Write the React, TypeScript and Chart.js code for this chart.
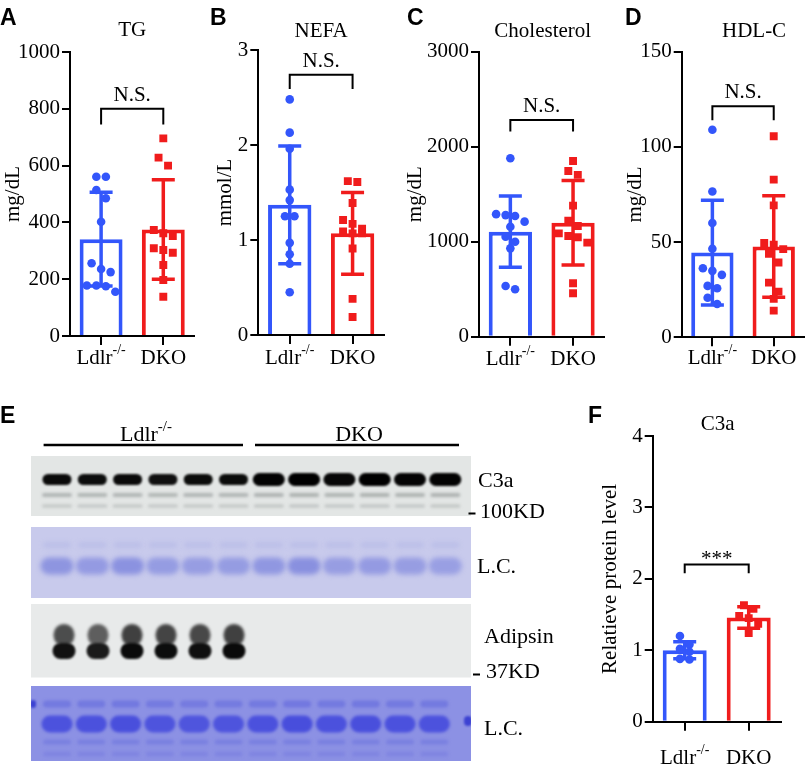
import React, { useEffect, useRef } from 'react';
import { Chart, registerables } from 'chart.js';

Chart.register(...registerables);

const BLUE = '#3356fb';
const RED = '#f01c1c';
const SERIF = '"Liberation Serif", "Times New Roman", serif';
const SANS = '"Liberation Sans", Arial, sans-serif';
const COLORS = [BLUE, RED];

// ---------- data ----------
const groupLabels = ['Ldlr', 'DKO'];
const ldlrSup = '-/-';

const tgLdlr = [561, 561, 514, 485, 402, 256, 236, 225, 178, 178, 175, 156];
const tgDko = [696, 628, 600, 373, 362, 352, 309, 303, 293, 250, 197, 138];
const tgMean = [341, 375];
const tgSd = [165, 175];

const nefaLdlr = [2.48, 2.13, 1.96, 1.53, 1.42, 1.25, 1.25, 0.97, 0.85, 0.75, 0.45];
const nefaDko = [1.62, 1.61, 1.39, 1.21, 1.17, 1.12, 1.09, 1.07, 1.07, 0.91, 0.38, 0.19];
const nefaMean = [1.37, 1.07];
const nefaSd = [0.62, 0.43];

const cholLdlr = [1878, 1290, 1280, 1270, 1211, 1158, 1053, 1000, 930, 534, 499];
const cholDko = [1850, 1745, 1703, 1380, 1221, 1165, 1088, 1060, 1046, 990, 562, 457];
const cholMean = [1105, 1200];
const cholSd = [375, 445];

const hdlLdlr = [109, 76.6, 60, 46.5, 36.3, 34.9, 32.8, 27, 25.8, 20.8, 17.5];
const hdlDko = [105.6, 82.8, 69.3, 49.5, 48.6, 46.3, 43.8, 39.3, 28.7, 24, 20.2, 14];
const hdlMean = [44.5, 47.7];
const hdlSd = [27.5, 26.7];

const c3aLdlr = [1.2, 1.08, 1.02, 0.98, 0.88, 0.87];
const c3aDko = [1.63, 1.58, 1.48, 1.45, 1.37, 1.24];
const c3aMean = [1.0, 1.46];
const c3aSd = [0.12, 0.15];

// western blot lane intensities (relative)
const c3aBand = [0.82, 0.78, 0.82, 0.72, 0.8, 0.8, 0.95, 1, 0.88, 1, 0.93, 0.95];
const lcTopBand = [0.75, 0.6, 0.85, 0.55, 0.5, 0.55, 0.7, 0.9, 0.5, 0.6, 0.5, 0.45];
const adipsinBand = [0.8, 0.6, 0.95, 0.9, 0.85, 0.95, 0, 0, 0, 0, 0, 0];
const lcBottomBand = [0.8, 0.85, 0.9, 0.75, 0.7, 0.75, 0.85, 0.95, 0.85, 0.9, 0.85, 0.8];

type Panel = {
  letter: string; title: string; yTitle: string; yMax: number; step: number;
  values: number[][]; mean: number[]; sd: number[]; sig: string;
  sigTop: number; sigLeg: number; sigDy: number;
  left: number; top: number; w: number; h: number; yW: number; padTop: number;
  padRight: number; xH: number; yTitlePad: number; letterX: number; letterY: number;
  titleY: number; titleDx: number; labelDy: number;
};

const PANELS: Panel[] = [
  { letter: 'A', title: 'TG', yTitle: 'mg/dL', yMax: 1000, step: 200, values: [tgLdlr, tgDko], mean: tgMean, sd: tgSd,
    sig: 'N.S.', sigTop: 800, sigLeg: 745, sigDy: -8,
    left: 0, top: 0, w: 200, h: 380, yW: 70, padTop: 52, padRight: 3, xH: 44, yTitlePad: 1,
    letterX: 0, letterY: 25, titleY: 36, titleDx: 0, labelDy: 28 },
  { letter: 'B', title: 'NEFA', yTitle: 'mmol/L', yMax: 3, step: 1, values: [nefaLdlr, nefaDko], mean: nefaMean, sd: nefaSd,
    sig: 'N.S.', sigTop: 2.74, sigLeg: 2.59, sigDy: -8,
    left: 200, top: 0, w: 190, h: 380, yW: 58.3, padTop: 50, padRight: 6, xH: 45, yTitlePad: 12.4,
    letterX: 10, letterY: 25, titleY: 37, titleDx: 0, labelDy: 29 },
  { letter: 'C', title: 'Cholesterol', yTitle: 'mg/dL', yMax: 3000, step: 1000, values: [cholLdlr, cholDko], mean: cholMean, sd: cholSd,
    sig: 'N.S.', sigTop: 2280, sigLeg: 2160, sigDy: -8,
    left: 400, top: 0, w: 210, h: 380, yW: 79, padTop: 51.7, padRight: 4, xH: 43.3, yTitlePad: 2.4,
    letterX: 7, letterY: 25, titleY: 37, titleDx: 1, labelDy: 28 },
  { letter: 'D', title: 'HDL-C', yTitle: 'mg/dL', yMax: 150, step: 50, values: [hdlLdlr, hdlDko], mean: hdlMean, sd: hdlSd,
    sig: 'N.S.', sigTop: 121.4, sigLeg: 114, sigDy: -8,
    left: 615, top: 0, w: 195, h: 380, yW: 66.7, padTop: 51.7, padRight: 0, xH: 42.7, yTitlePad: 7.4,
    letterX: 10, letterY: 25, titleY: 37, titleDx: 11, labelDy: 27 },
  { letter: 'F', title: 'C3a', yTitle: 'Relatieve protein level', yMax: 4, step: 1, values: [c3aLdlr, c3aDko], mean: c3aMean, sd: c3aSd,
    sig: '***', sigTop: 2.2, sigLeg: 2.08, sigDy: 0.5,
    left: 585, top: 380, w: 210, h: 393, yW: 67.7, padTop: 56, padRight: 14.3, xH: 51.3, yTitlePad: 12.4,
    letterX: 3, letterY: 43, titleY: 50, titleDx: 1, labelDy: 42 },
];

function drawGroupLabel(ctx: CanvasRenderingContext2D, i: number, cx: number, base: number, size: number) {
  ctx.textAlign = 'left';
  ctx.textBaseline = 'alphabetic';
  ctx.fillStyle = '#000';
  const main = groupLabels[i];
  ctx.font = `${size}px ${SERIF}`;
  const w1 = ctx.measureText(main).width;
  if (i !== 0) {
    ctx.fillText(main, cx - w1 / 2, base);
    return;
  }
  const supSize = Math.round(size * 0.66);
  ctx.font = `${supSize}px ${SERIF}`;
  const w2 = ctx.measureText(ldlrSup).width;
  const x0 = cx - (w1 + w2) / 2;
  ctx.font = `${size}px ${SERIF}`;
  ctx.fillText(main, x0, base);
  ctx.font = `${supSize}px ${SERIF}`;
  ctx.fillText(ldlrSup, x0 + w1, base - size * 0.47);
}

function swarmOffsets(values: number[], toPx: (v: number) => number, d: number): number[] {
  const idx = values.map((_, i) => i).sort((a, b) => values[b] - values[a]);
  const offs = new Array(values.length).fill(0);
  let group: number[] = [];
  const flush = () => {
    const n = group.length;
    group.forEach((gi, k) => { offs[gi] = (k - (n - 1) / 2) * d; });
    group = [];
  };
  for (const i of idx) {
    if (group.length && Math.abs(toPx(values[i]) - toPx(values[group[0]])) >= d) flush();
    group.push(i);
  }
  flush();
  return offs;
}

function makeOverlay(p: Panel) {
  return {
    id: 'overlay' + p.letter,
    afterDatasetDraw(chart: any, args: any) {
      if (args.index !== 0) return;
      const ctx = chart.ctx as CanvasRenderingContext2D;
      const xs = chart.scales.x;
      const ys = chart.scales.y;
      ctx.save();
      ctx.lineWidth = 3.5;
      p.mean.forEach((m, i) => {
        const cx = xs.getPixelForValue(i);
        const t = ys.getPixelForValue(m + p.sd[i]);
        const b = ys.getPixelForValue(m - p.sd[i]);
        ctx.strokeStyle = COLORS[i];
        ctx.beginPath();
        ctx.moveTo(cx, t); ctx.lineTo(cx, b);
        ctx.moveTo(cx - 11.5, t); ctx.lineTo(cx + 11.5, t);
        ctx.moveTo(cx - 11.5, b); ctx.lineTo(cx + 11.5, b);
        ctx.stroke();
      });
      ctx.restore();
    },
    afterDraw(chart: any) {
      const ctx = chart.ctx as CanvasRenderingContext2D;
      const xs = chart.scales.x;
      const ys = chart.scales.y;
      const area = chart.chartArea;
      ctx.save();
      const x0 = xs.getPixelForValue(0);
      const x1 = xs.getPixelForValue(1);
      const yt = ys.getPixelForValue(p.sigTop);
      const yl = ys.getPixelForValue(p.sigLeg);
      ctx.strokeStyle = '#000';
      ctx.lineWidth = 2;
      ctx.beginPath();
      ctx.moveTo(x0, yl); ctx.lineTo(x0, yt); ctx.lineTo(x1, yt); ctx.lineTo(x1, yl);
      ctx.stroke();
      ctx.fillStyle = '#000';
      ctx.font = `21px ${SERIF}`;
      ctx.textAlign = 'center';
      ctx.textBaseline = 'alphabetic';
      ctx.fillText(p.sig, (x0 + x1) / 2, yt + p.sigDy);
      ctx.fillText(p.title, (area.left + area.right) / 2 + p.titleDx, p.titleY);
      for (let i = 0; i < groupLabels.length; i++) {
        drawGroupLabel(ctx, i, xs.getPixelForValue(i), area.bottom + p.labelDy, 21);
      }
      ctx.font = `bold 23px ${SANS}`;
      ctx.textAlign = 'left';
      ctx.fillText(p.letter, p.letterX, p.letterY);
      ctx.restore();
    },
  };
}

function makeConfig(p: Panel): any {
  const tickFont = { family: SERIF, size: 21 };
  return {
    type: 'bar',
    data: {
      datasets: [
        {
          type: 'bar', data: p.mean.map((m, i) => ({ x: i, y: m })), backgroundColor: '#ffffff', borderColor: COLORS,
          borderWidth: 4, borderSkipped: 'start', grouped: false, categoryPercentage: 1, barPercentage: 0.69,
          maxBarThickness: 44, xAxisID: 'x', yAxisID: 'y', order: 2,
        },
        {
          type: 'scatter', data: p.values[0].map((v) => ({ x: 0, y: v })), xAxisID: 'x', yAxisID: 'y',
          pointStyle: 'circle', pointRadius: 4.3, backgroundColor: BLUE, borderWidth: 0, order: 1,
        },
        {
          type: 'scatter', data: p.values[1].map((v) => ({ x: 1, y: v })), xAxisID: 'x', yAxisID: 'y',
          pointStyle: 'rect', pointRadius: 5.6, backgroundColor: RED, borderWidth: 0, order: 1,
        },
      ],
    },
    options: {
      animation: false,
      responsive: false,
      maintainAspectRatio: false,
      devicePixelRatio: 1,
      events: [],
      layout: { padding: { left: 0, right: p.padRight, top: p.padTop, bottom: 0 } },
      plugins: { legend: { display: false }, tooltip: { enabled: false }, title: { display: false } },
      scales: {
        x: {
          type: 'linear', position: 'bottom', min: -0.5, max: 1.5, offset: false,
          grid: { offset: false, drawOnChartArea: false, drawTicks: true, tickLength: 9, color: '#000', lineWidth: 2 },
          border: { display: true, color: '#000', width: 2 },
          ticks: { display: false },
          afterBuildTicks: (s: any) => { s.ticks = [{ value: 0 }, { value: 1 }]; },
          afterFit: (s: any) => { s.height = p.xH; },
        },
        y: {
          type: 'linear', position: 'left', min: 0, max: p.yMax,
          ticks: { stepSize: p.step, color: '#000', font: tickFont, padding: 2, callback: (v: any) => String(v) },
          grid: { drawOnChartArea: false, drawTicks: true, tickLength: 8, color: '#000', lineWidth: 2 },
          border: { display: true, color: '#000', width: 2 },
          title: { display: true, text: p.yTitle, color: '#000', font: tickFont, padding: { top: p.yTitlePad, bottom: 0 } },
          afterFit: (s: any) => { s.width = p.yW; },
        },
      },
    },
    plugins: [makeOverlay(p)],
  };
}

function PanelChart({ p }: { p: Panel }) {
  const ref = useRef<HTMLCanvasElement>(null);
  useEffect(() => {
    const chart = new Chart(ref.current as HTMLCanvasElement, makeConfig(p));
    const ys: any = chart.scales.y;
    const xs: any = chart.scales.x;
    const pxPerUnit = xs.getPixelForValue(1) - xs.getPixelForValue(0);
    p.values.forEach((vals, g) => {
      const offs = swarmOffsets(vals, (v) => ys.getPixelForValue(v), 9.5);
      (chart.data.datasets[g + 1] as any).data = vals.map((v, i) => ({ x: g + offs[i] / pxPerUnit, y: v }));
    });
    chart.update('none');
    return () => chart.destroy();
  }, []);
  return (
    <canvas
      ref={ref}
      width={p.w}
      height={p.h}
      style={{ position: 'absolute', left: p.left, top: p.top, width: p.w, height: p.h }}
    />
  );
}

function mix(a: number[], b: number[], t: number) {
  const c = a.map((v, i) => Math.round(v + (b[i] - v) * t));
  return `rgb(${c[0]},${c[1]},${c[2]})`;
}

function band(ctx: CanvasRenderingContext2D, cx: number, cy: number, w: number, h: number, color: string, blur: number) {
  ctx.save();
  ctx.filter = `blur(${blur}px)`;
  ctx.fillStyle = color;
  ctx.beginPath();
  (ctx as any).roundRect(cx - w / 2, cy - h / 2, w, h, Math.min(h / 2, w / 2));
  ctx.fill();
  ctx.restore();
}

function BlotPanel() {
  const ref = useRef<HTMLCanvasElement>(null);
  useEffect(() => {
    const cv = ref.current as HTMLCanvasElement;
    const ctx = cv.getContext('2d') as CanvasRenderingContext2D;
    const off = 380;
    const X0 = 31, X1 = 471;
    ctx.clearRect(0, 0, cv.width, cv.height);

    // --- C3a membrane ---
    const bg1 = [227, 230, 229];
    ctx.fillStyle = mix(bg1, bg1, 0);
    ctx.fillRect(X0, 456 - off, X1 - X0, 60);
    ctx.save();
    ctx.beginPath(); ctx.rect(X0, 456 - off, X1 - X0, 60); ctx.clip();
    c3aBand.forEach((v, i) => {
      const cx = 57 + i * 35.3;
      band(ctx, cx, 495 - off, 30, 4, mix(bg1, [150, 155, 155], 0.45 + v * 0.25), 1.4);
      band(ctx, cx, 506 - off, 30, 3, mix(bg1, [160, 165, 165], 0.35 + v * 0.2), 1.4);
      const w = i < 6 ? 29 : 32;
      const h = i < 6 ? 11 : 13;
      band(ctx, cx, 479.5 - off, w, h, mix(bg1, [0, 0, 0], 0.75 + v * 0.25), 1.3);
    });
    ctx.restore();

    // --- L.C. top ---
    const bg2 = [200, 202, 236];
    ctx.fillStyle = mix(bg2, bg2, 0);
    ctx.fillRect(X0, 527 - off, X1 - X0, 71);
    ctx.save();
    ctx.beginPath(); ctx.rect(X0, 527 - off, X1 - X0, 71); ctx.clip();
    lcTopBand.forEach((v, i) => {
      const cx = 57 + i * 35.3;
      band(ctx, cx, 545 - off, 28, 6, mix(bg2, [180, 184, 230], 0.6), 2);
      band(ctx, cx, 566 - off, 33, 17, mix(bg2, [130, 138, 222], 0.45 + v * 0.5), 2.5);
    });
    ctx.restore();

    // --- Adipsin membrane ---
    const bg3 = [232, 234, 234];
    ctx.fillStyle = mix(bg3, bg3, 0);
    ctx.fillRect(X0, 604 - off, X1 - X0, 73.5);
    ctx.save();
    ctx.beginPath(); ctx.rect(X0, 604 - off, X1 - X0, 73.5); ctx.clip();
    adipsinBand.forEach((v, i) => {
      if (v <= 0) return;
      const cx = 64 + i * 34;
      band(ctx, cx, 635 - off, 21, 22, mix(bg3, [40, 40, 40], 0.45 + v * 0.45), 1.5);
      band(ctx, cx, 651 - off, 23, 16, mix(bg3, [8, 8, 8], 0.8 + v * 0.2), 1.3);
    });
    ctx.restore();

    // --- L.C. bottom ---
    const bg4 = [140, 145, 228];
    ctx.fillStyle = mix(bg4, bg4, 0);
    ctx.fillRect(X0, 686 - off, X1 - X0, 75);
    ctx.save();
    ctx.beginPath(); ctx.rect(X0, 686 - off, X1 - X0, 75); ctx.clip();
    lcBottomBand.forEach((v, i) => {
      const cx = 57 + i * 34.3;
      band(ctx, cx, 704 - off, 28, 7, mix(bg4, [110, 116, 222], 0.5 + v * 0.4), 1.5);
      band(ctx, cx, 724 - off, 31, 17, mix(bg4, [70, 76, 220], 0.55 + v * 0.45), 1.8);
      band(ctx, cx, 742 - off, 28, 5, mix(bg4, [110, 116, 222], 0.6), 1.5);
      band(ctx, cx, 754 - off, 28, 5, mix(bg4, [115, 120, 222], 0.5), 1.5);
    });
    band(ctx, X0 + 2, 704 - off, 6, 8, 'rgb(60,66,210)', 1);
    band(ctx, X1 - 3, 721 - off, 8, 10, 'rgb(60,66,210)', 1);
    ctx.restore();

    // --- labels ---
    ctx.fillStyle = '#000';
    ctx.font = `bold 23px ${SANS}`;
    ctx.textAlign = 'left';
    ctx.textBaseline = 'alphabetic';
    ctx.fillText('E', 0, 423 - off);

    drawGroupLabel(ctx, 0, 146, 441 - off, 22);
    drawGroupLabel(ctx, 1, 359, 441 - off, 22);

    ctx.strokeStyle = '#000';
    ctx.lineWidth = 2.5;
    ctx.beginPath();
    ctx.moveTo(43.6, 445 - off); ctx.lineTo(243, 445 - off);
    ctx.moveTo(255, 445 - off); ctx.lineTo(459, 445 - off);
    ctx.stroke();

    ctx.font = `22px ${SERIF}`;
    ctx.fillStyle = '#000';
    ctx.textAlign = 'left';
    ctx.fillText('C3a', 478, 487 - off);
    ctx.fillText('100KD', 480, 518 - off);
    ctx.fillText('L.C.', 477, 573 - off);
    ctx.fillText('Adipsin', 484, 643 - off);
    ctx.fillText('37KD', 486, 678 - off);
    ctx.fillText('L.C.', 484, 735 - off);
    ctx.lineWidth = 2;
    ctx.beginPath();
    ctx.moveTo(468.5, 513.6 - off); ctx.lineTo(475.5, 513.6 - off);
    ctx.moveTo(473, 674.6 - off); ctx.lineTo(480, 674.6 - off);
    ctx.stroke();
  }, []);
  return (
    <canvas
      ref={ref}
      width={585}
      height={393}
      style={{ position: 'absolute', left: 0, top: 380, width: 585, height: 393 }}
    />
  );
}

export default function App() {
  return (
    <div style={{ position: 'absolute', left: 0, top: 0, width: 810, height: 773, background: '#fff', overflow: 'hidden' }}>
      <BlotPanel />
      {PANELS.map((p) => (
        <PanelChart key={p.letter} p={p} />
      ))}
    </div>
  );
}
